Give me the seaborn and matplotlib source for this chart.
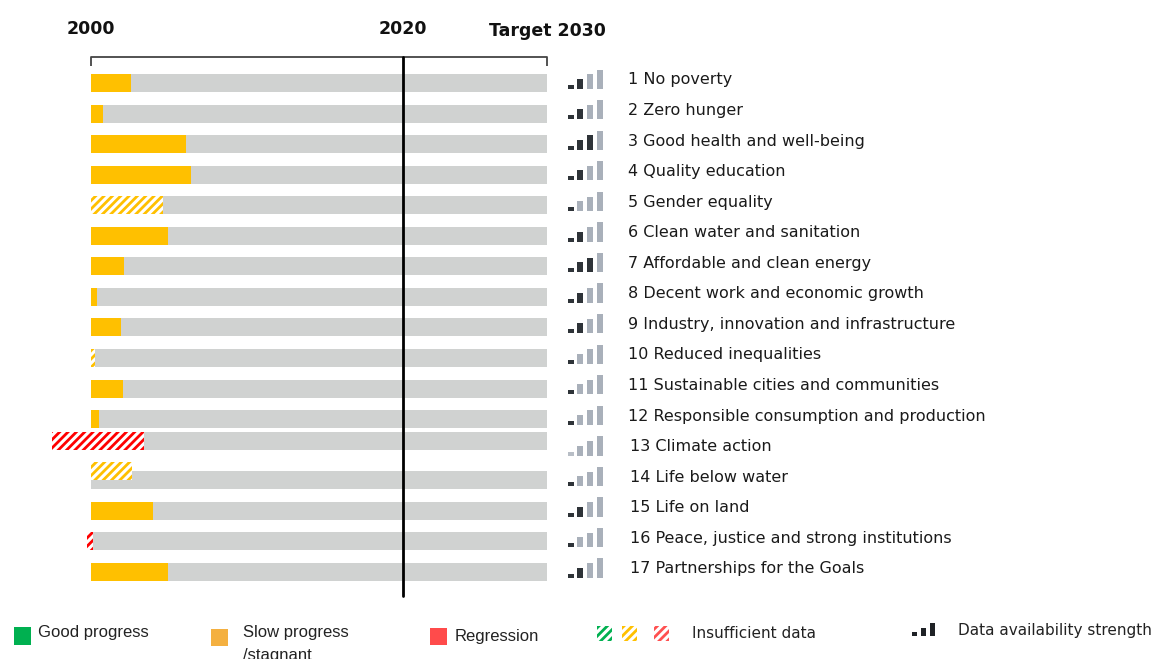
import numpy as np
import pandas as pd
import matplotlib
matplotlib.use("Agg")
import matplotlib.pyplot as plt
import seaborn as sns
from matplotlib.patches import Rectangle
from matplotlib.transforms import blended_transform_factory

# ---------------- data ----------------
goals = ["1 No poverty", "2 Zero hunger", "3 Good health and well-being",
         "4 Quality education", "5 Gender equality", "6 Clean water and sanitation",
         "7 Affordable and clean energy", "8 Decent work and economic growth",
         "9 Industry, innovation and infrastructure", "10 Reduced inequalities",
         "11 Sustainable cities and communities",
         "12 Responsible consumption and production", "13 Climate action",
         "14 Life below water", "15 Life on land",
         "16 Peace, justice and strong institutions", "17 Partnerships for the Goals"]
# progress since 2000 as share of the distance to the 2030 target
progress_start = [0, 0, 0, 0, 0, 0, 0, 0, 0, 0, 0, 0, -0.086, 0, 0, -0.009, 0]
progress_end = [0.088, 0.026, 0.208, 0.219, 0.158, 0.169, 0.072, 0.013, 0.066,
                0.009, 0.070, 0.018, 0.116, 0.090, 0.136, 0.004, 0.169]
status = ["slow", "slow", "slow", "slow", "slow", "slow", "slow", "slow", "slow",
          "slow", "slow", "slow", "regression", "slow", "slow", "regression", "slow"]
insufficient = [False, False, False, False, True, False, False, False, False,
                True, False, False, True, True, False, True, False]
data_strength = [2, 2, 3, 2, 1, 2, 3, 2, 2, 1, 1, 1, 0, 1, 2, 1, 2]
track_end = [1.0] * len(goals)
year_labels = ["2000", "2020", "Target 2030"]
year_pos = [0.0, 0.684, 1.0]

# ---------------- style / layout ----------------
W, H = 1158, 659
GRAY = "#D0D2D1"
COLORS = {"good": "#00B050", "slow": "#FFC000", "regression": "#FF0000"}
ICON_DARK, ICON_LIGHT = "#2E3338", "#A9B0BA"
BAR_H = 0.59
HATCH = "////"
# vertical offsets (row units) for the rows drawn out of line in the original
track_offset = {12: -0.285}
bar_offset = {12: -0.285, 13: -0.30}

sns.set_theme(style="white")
plt.rcParams["font.family"] = ["DejaVu Sans"]
plt.rcParams["hatch.linewidth"] = 2.0

fig = plt.figure(figsize=(W / 100, H / 100), dpi=100)
ax_top, ax_bot = 40, 600
ax = fig.add_axes([40 / W, 1 - ax_bot / H, 520 / W, (ax_bot - ax_top) / H])
axr = fig.add_axes([560 / W, 1 - ax_bot / H, 598 / W, (ax_bot - ax_top) / H])

df = pd.DataFrame({"goal": goals, "track": track_end})
sns.barplot(data=df, x="track", y="goal", orient="h", color=GRAY, width=BAR_H,
            saturation=1, ax=ax, zorder=1)
for i, p in enumerate(ax.patches):
    p.set_edgecolor("none")
    if i in track_offset:
        p.set_y(p.get_y() + track_offset[i])

rows = np.arange(len(goals))
for i in rows:
    y = i + bar_offset.get(i, 0)
    c = COLORS[status[i]]
    w = progress_end[i] - progress_start[i]
    if insufficient[i]:
        ax.barh(y, w, left=progress_start[i], height=BAR_H, color="white",
                edgecolor=c, linewidth=0, hatch=HATCH, zorder=2)
    else:
        ax.barh(y, w, left=progress_start[i], height=BAR_H, color=c,
                linewidth=0, zorder=2)

px_per_row = 30.56
y0_px = 83
ylim_top = (ax_top - y0_px) / px_per_row
ylim_bot = (ax_bot - y0_px) / px_per_row
x0_px, scale = 91, 456
ax.set_xlim((40 - x0_px) / scale, (560 - x0_px) / scale)
ax.set_ylim(ylim_bot, ylim_top)
ax.axis("off")

# bracket and 2020 line
yb = (57 - y0_px) / px_per_row
yt = (66 - y0_px) / px_per_row
ax.plot([0, 0, 1, 1], [yt, yb, yb, yt], color="#444444", lw=1.3, solid_capstyle="butt", zorder=3)
ax.plot([year_pos[1], year_pos[1]], [yb, (596 - y0_px) / px_per_row], color="black", lw=2.0, zorder=3)

tr = blended_transform_factory(ax.transData, fig.transFigure)
for lab, xp, ypx in zip(year_labels, year_pos, [29, 29, 31]):
    ax.text(xp, 1 - ypx / H, lab, transform=tr, ha="center", va="center",
            fontsize=12.5, fontweight="bold", color="#111111")

# signal icons + labels
axr.set_xlim(560, 1158)
axr.set_ylim(ylim_bot, ylim_top)
axr.axis("off")
icon_x = [570.8, 580, 590, 600]
icon_h = [4, 10, 14.5, 19.3]
for i in rows:
    base = i + 0.19
    cols = [ICON_DARK if k < data_strength[i] else ICON_LIGHT for k in range(4)]
    if data_strength[i] == 0:
        cols[0] = "#B8BEC6"
    axr.bar(icon_x, [-h / px_per_row for h in icon_h], bottom=base, width=5.6,
            color=cols, linewidth=0)
    axr.text(628 if i < 12 else 630, i - 0.1, goals[i], ha="left", va="center",
             fontsize=11.5, color="#1A1A1A")

# ---------------- legend ----------------
def fx(px):
    return px / W

def fy(px):
    return 1 - px / H

def square(x1, y1, x2, y2, **kw):
    fig.add_artist(Rectangle((fx(x1), fy(y2)), fx(x2) - fx(x1), fy(y1) - fy(y2),
                             transform=fig.transFigure, **kw))

square(14, 627, 31, 645, facecolor="#00B050", linewidth=0)
fig.text(fx(38), fy(633), "Good progress", fontsize=12, family="Liberation Sans",
         va="center", color="#222222")
square(211, 629, 228, 646, facecolor="#F4B040", linewidth=0)
fig.text(fx(243), fy(625), "Slow progress\n/stagnant", fontsize=12,
         family="Liberation Sans", va="top", color="#222222", linespacing=1.7)
square(430, 628, 447, 645, facecolor="#FF4B4B", linewidth=0)
fig.text(fx(455), fy(636), "Regression", fontsize=12, family="Liberation Sans",
         va="center", color="#222222")
for x1, c in [(597, "#00B050"), (622, "#FFC000"), (654, "#FF5050")]:
    square(x1, 626, x1 + 15, 641, facecolor="white", edgecolor=c, linewidth=0,
           hatch=HATCH)
fig.text(fx(692), fy(633), "Insufficient data", fontsize=11, va="center",
         color="#222222")
for (xa, xb, h) in [(912, 917, 4), (921, 926, 8.5), (930, 935, 13)]:
    square(xa, 636 - h, xb, 636, facecolor="#1F2226", linewidth=0)
fig.text(fx(958), fy(631), "Data availability strength", fontsize=11,
         va="center", color="#222222")

fig.savefig("out.png", dpi=100)
